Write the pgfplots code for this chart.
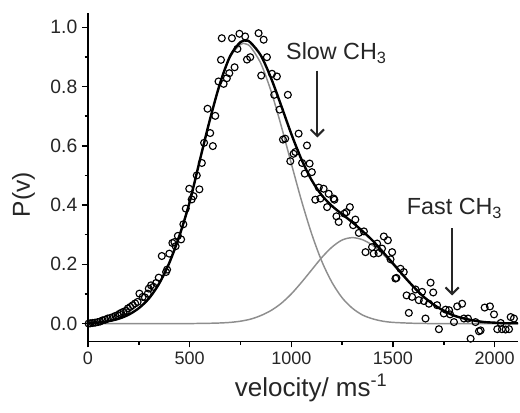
\documentclass[border=0pt]{standalone}
\usepackage{fontspec}
\setmainfont{Liberation Sans}
\usepackage{pgfplots}
\pgfplotsset{compat=1.18}
\usetikzlibrary{arrows.meta}
\definecolor{fitgray}{HTML}{8E8E8E}
\begin{document}
\begin{tikzpicture}
\path[use as bounding box] (-66pt,-53pt) rectangle (324pt,256pt);
\begin{axis}[
  at={(0,0)}, anchor=south west,
  scale only axis, width=322.5pt, height=246pt,
  xmin=0, xmax=2115, ymin=-0.06, ymax=1.047,
  axis x line*=bottom, axis y line*=left,
  axis line style={line width=1.1pt, black},
  xtick={0,500,1000,1500,2000}, minor xtick={250,750,1250,1750},
  ytick={0,0.2,0.4,0.6,0.8,1.0}, minor ytick={0.1,0.3,0.5,0.7,0.9},
  tick align=outside, major tick length=4.5pt, minor tick length=2.6pt,
  every tick/.style={line width=1.1pt, black},
  /pgf/number format/assume math mode=true,
  /pgf/number format/1000 sep={},
  xticklabel style={font=\fontsize{13.5}{16}\selectfont, text=black!85},
  yticklabel style={font=\fontsize{14.5}{17}\selectfont, text=black!85, /pgf/number format/fixed, /pgf/number format/fixed zerofill, /pgf/number format/precision=1},
  xlabel={velocity/ ms\textsuperscript{-1}},
  xlabel style={font=\fontsize{19.5}{22}\selectfont, at={(axis description cs:0.519,0)}, anchor=center, yshift=-35.3pt, text=black!85},
  ylabel={P(v)},
  ylabel style={font=\fontsize{18.4}{22}\selectfont, at={([xshift=-48.4pt]axis description cs:0,0.447)}, anchor=center, text=black!85},
  clip=false,
]
\addplot[only marks, mark=o, mark size=2.6pt, mark options={line width=0.85pt, black}] coordinates {
(3,0.000) (12,0.001) (23,0.002) (35,0.003) (48,0.005) (60,0.007) (72,0.011) (85,0.013)
(97,0.017) (110,0.019) (122,0.022) (135,0.026) (146,0.028) (155,0.033) (163,0.036) (175,0.040)
(188,0.043) (196,0.051) (208,0.056) (220,0.062) (232,0.068) (244,0.073) (253,0.101) (269,0.090)
(280,0.088) (294,0.101) (299,0.118) (310,0.129) (322,0.124) (335,0.137) (348,0.155) (363,0.228)
(384,0.174) (389,0.182) (400,0.236) (415,0.272) (425,0.275) (431,0.261) (442,0.296) (458,0.284)
(469,0.335) (481,0.388) (498,0.455) (510,0.419) (519,0.430) (535,0.500) (548,0.453) (560,0.542)
(571,0.610) (588,0.725) (601,0.643) (614,0.599) (626,0.701) (642,0.817) (654,0.890) (658,0.963)
(667,0.809) (683,0.828) (695,0.845) (708,0.963) (721,0.865) (735,0.927) (745,0.978) (773,0.969)
(782,0.891) (798,0.899) (839,0.980) (852,0.837) (864,0.958) (880,0.899) (905,0.843) (916,0.772)
(929,0.834) (942,0.722) (959,0.621) (970,0.624) (983,0.772) (995,0.548) (1011,0.573) (1020,0.579)
(1036,0.641) (1053,0.542) (1066,0.506) (1077,0.601) (1090,0.540) (1101,0.511) (1118,0.418) (1135,0.459)
(1143,0.422) (1159,0.455) (1176,0.393) (1184,0.438) (1208,0.422) (1212,0.418) (1222,0.362) (1233,0.343)
(1261,0.371) (1271,0.376) (1288,0.393) (1304,0.332) (1315,0.351) (1332,0.306) (1357,0.311) (1365,0.241)
(1397,0.258) (1405,0.236) (1422,0.270) (1429,0.238) (1446,0.253) (1455,0.294) (1475,0.281) (1488,0.217)
(1496,0.241) (1512,0.152) (1517,0.154) (1537,0.185) (1553,0.174) (1567,0.095) (1578,0.036) (1594,0.090)
(1611,0.115) (1627,0.079) (1643,0.107) (1652,0.076) (1660,0.017) (1677,0.067) (1685,0.138) (1698,0.105)
(1717,0.062) (1726,-0.019) (1750,0.034) (1759,0.047) (1776,0.045) (1781,0.031) (1800,0.005) (1816,0.058)
(1840,0.067) (1849,0.017) (1869,0.017) (1882,-0.051) (1906,0.005) (1923,-0.026) (1931,-0.023) (1951,0.054)
(1977,0.058) (1997,0.031) (2013,-0.019) (2030,0.002) (2036,-0.019) (2054,-0.020) (2071,-0.019) (2079,0.022)
(2095,0.017)
};
\addplot[fitgray, line width=1.1pt, smooth] coordinates {
(0,0) (50,0.003) (100,0.008) (150,0.016) (200,0.030) (250,0.052) (300,0.085) (350,0.135)
(400,0.205) (450,0.297) (500,0.410) (550,0.551) (600,0.688) (650,0.810) (700,0.900) (750,0.942)
(775,0.944) (800,0.933) (850,0.878) (900,0.785) (950,0.668) (1000,0.540) (1050,0.415) (1100,0.303)
(1150,0.210) (1200,0.139) (1250,0.087) (1300,0.052) (1350,0.029) (1400,0.016) (1450,0.008) (1500,0.004)
(1600,0.001) (1700,0) (1900,0) (2115,0)
};
\addplot[fitgray, line width=1.1pt, smooth] coordinates {
(0,0) (400,0) (500,0) (600,0.001) (650,0.002) (700,0.004) (750,0.008) (800,0.015) (850,0.027)
(900,0.044) (950,0.068) (1000,0.100) (1050,0.139) (1100,0.181) (1150,0.223) (1200,0.258) (1250,0.282)
(1300,0.290) (1350,0.283) (1400,0.264) (1450,0.234) (1500,0.199) (1550,0.161) (1600,0.124) (1650,0.091)
(1700,0.064) (1750,0.043) (1800,0.027) (1850,0.017) (1900,0.010) (1950,0.005) (2000,0.003) (2050,0.001)
(2115,0.001)
};
\addplot[black, line width=1.8pt, smooth] coordinates {
(0,0) (50,0.003) (100,0.008) (150,0.016) (200,0.030) (250,0.052) (300,0.085) (350,0.135)
(400,0.205) (450,0.297) (500,0.410) (550,0.551) (600,0.689) (650,0.812) (700,0.904) (750,0.950)
(780,0.955) (800,0.948) (850,0.905) (900,0.829) (950,0.736) (1000,0.640) (1050,0.554) (1100,0.484)
(1150,0.433) (1200,0.397) (1250,0.369) (1300,0.342) (1350,0.312) (1400,0.280) (1450,0.242) (1500,0.203)
(1550,0.163) (1600,0.125) (1650,0.091) (1700,0.064) (1750,0.043) (1800,0.027) (1850,0.017) (1900,0.010)
(1950,0.005) (2000,0.003) (2050,0.001) (2115,0.001)
};
\node[font=\fontsize{17.5}{20}\selectfont, text=black!85] at (axis cs:1222,0.912) {Slow CH\textsubscript{3}};
\draw[line width=1.5pt, black!85, -{Straight Barb[length=5pt,width=10pt,line width=1.5pt]}] (axis cs:1128,0.854) -- (axis cs:1128,0.628);
\node[font=\fontsize{17.5}{20}\selectfont, text=black!85] at (axis cs:1803,0.389) {Fast CH\textsubscript{3}};
\draw[line width=1.5pt, black!85, -{Straight Barb[length=5pt,width=10pt,line width=1.5pt]}] (axis cs:1791,0.321) -- (axis cs:1791,0.095);
\end{axis}
\end{tikzpicture}
\end{document}
